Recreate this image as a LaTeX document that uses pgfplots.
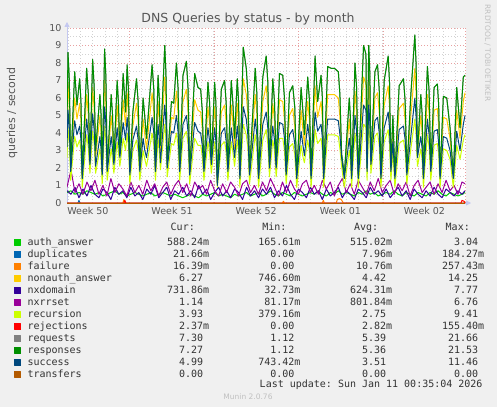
\documentclass[border=0pt]{standalone}
\usepackage{fontspec}
\setmainfont{DejaVu Sans}
\setmonofont{DejaVu Sans Mono}
\usepackage{pgfplots}
\usepackage{pgfplotstable}
\pgfplotsset{compat=1.18}
\usetikzlibrary{arrows.meta}

\definecolor{bg}{HTML}{F0F0F0}
\definecolor{majgrid}{HTML}{E8A0A0}
\definecolor{mingrid}{HTML}{D2D2D2}
\definecolor{axiscol}{HTML}{C4C8F0}
\definecolor{txt}{HTML}{555555}
\definecolor{legtxt}{HTML}{333333}
\definecolor{faint}{HTML}{C0C0C0}
\definecolor{cauth}{HTML}{00CC00}
\definecolor{cdup}{HTML}{0066B3}
\definecolor{cfail}{HTML}{FF8000}
\definecolor{cnonauth}{HTML}{FFCC00}
\definecolor{cnxdom}{HTML}{330099}
\definecolor{cnxrr}{HTML}{990099}
\definecolor{crecur}{HTML}{CCFF00}
\definecolor{crej}{HTML}{FF0000}
\definecolor{creq}{HTML}{808080}
\definecolor{cresp}{HTML}{008F00}
\definecolor{csucc}{HTML}{00487D}
\definecolor{ctrans}{HTML}{B35A00}

% x = pixels from the left edge of the plot (about 12.1 per day)
\pgfplotstableread{
p     resp nonauth succ recur
0     4.5  3.8  3.2  2.6
1     8.6  6.9  5.3  4.3
2.3   7.1  5.7  4.3  3.5
3.7   2.0  1.9  1.8  1.3
7.7   7.5  6.0  4.7  3.8
10    5.6  4.8  3.9  3.2
12.7  7.1  5.7  4.4  3.6
14.0  5.8  4.7  3.6  3.0
15.3  1.6  1.5  1.4  0.9
19.7  7.7  6.2  4.8  3.9
21.3  6.3  5.1  3.9  3.2
23    2.4  2.3  2.2  1.7
25.7  8.2  6.6  5.1  4.1
27.2  6.7  5.4  4.2  3.4
28.7  3.0  2.6  2.1  1.7
33    6.2  5.0  3.8  3.1
34.1  5.1  4.1  3.1  2.5
35.3  1.8  1.7  1.6  1.1
37.7  8.8  7.0  5.5  4.4
39.0  7.2  5.7  4.5  3.6
40.3  2.0  1.9  1.8  1.3
44.3  6.2  5.0  3.8  3.1
45.6  5.1  4.1  3.1  2.5
47    2.4  2.3  2.2  1.7
50.3  7.0  5.6  4.3  3.5
51.6  5.7  4.6  3.5  2.9
53    2.8  2.7  2.6  2.1
56.3  7.4  5.9  4.6  3.7
58.7  5.2  4.4  3.6  3.0
60.3  7.9  6.3  4.9  4.0
61.6  6.5  5.2  4.0  3.3
63    1.8  1.7  1.6  1.1
66    5.2  4.4  3.6  3.0
69.7  7.1  5.7  4.4  3.6
71.3  5.8  4.7  3.6  3.0
73    2.0  1.9  1.8  1.3
76.3  6.0  4.8  3.7  3.0
78.0  4.9  3.9  3.0  2.5
79.7  3.7  3.1  2.6  2.1
85.3  7.9  6.3  4.9  4.0
87.0  6.5  5.2  4.0  3.3
88.7  2.0  1.9  1.8  1.3
91.3  7.3  5.8  4.5  3.7
92.5  6.0  4.8  3.7  3.0
93.7  3.3  2.8  2.3  1.9
98    9.0  7.2  5.6  4.5
99.2  7.4  5.9  4.6  3.7
100.5 2.2  2.1  2.0  1.5
104.7 5.8  4.9  4.1  3.4
107   5.7  4.8  4.0  3.3
109.7 8.0  6.4  5.0  4.0
111.3 6.6  5.2  4.1  3.3
113   2.0  1.9  1.8  1.3
116.3 7.3  5.8  4.5  3.7
119.7 8.1  6.5  5.0  4.1
121.3 6.6  5.3  4.1  3.4
123   1.8  1.7  1.6  1.1
128   7.4  5.9  4.6  3.7
131.3 6.6  5.3  4.1  3.3
134   6.5  5.2  4.0  3.3
135.6 5.3  4.3  3.3  2.7
137.3 2.0  1.9  1.8  1.3
141.3 6.9  5.5  4.3  3.5
143.0 5.7  4.5  3.5  2.9
144.7 2.4  2.3  2.2  1.7
148   6.9  5.5  4.3  3.5
149.3 5.7  4.5  3.5  2.9
150.7 1.2  1.1  1.0  0.9
154.7 6.5  5.2  4.0  3.3
158   7.0  5.6  4.3  3.5
159.6 5.7  4.6  3.5  2.9
161.3 2.0  1.9  1.8  1.3
164.7 7.0  5.6  4.3  3.5
166.3 5.7  4.6  3.5  2.9
168   3.7  3.1  2.6  2.1
170.7 7.1  5.7  4.4  3.6
172.0 5.8  4.7  3.6  3.0
173.3 1.6  1.5  1.4  0.9
176.7 8.9  7.1  5.5  4.5
179.7 7.7  6.2  4.8  3.9
181.3 6.3  5.1  3.9  3.2
183   1.8  1.7  1.6  1.1
188.7 7.7  6.2  4.8  3.9
190.3 6.3  5.1  3.9  3.2
192   1.6  1.5  1.4  0.9
196.3 7.2  5.8  4.5  3.6
199.7 8.4  6.7  5.2  4.2
201.3 6.9  5.5  4.3  3.4
203   2.2  2.1  2.0  1.5
206.3 7.1  5.7  4.4  3.6
208.0 5.8  4.7  3.6  3.0
209.7 2.2  2.1  2.0  1.5
213   7.4  5.9  4.6  3.7
216.3 7.3  5.8  4.5  3.7
218.0 6.0  4.8  3.7  3.0
219.7 1.8  1.7  1.6  1.1
223   6.3  5.0  3.9  3.2
226.3 6.7  5.4  4.2  3.4
228.3 5.5  4.4  3.4  2.8
230.3 1.6  1.5  1.4  0.9
234.7 6.6  5.3  4.1  3.3
236.3 5.4  4.3  3.4  2.7
238   3.9  3.3  2.7  2.3
241.3 7.2  5.8  4.5  3.6
243.0 5.9  4.8  3.7  3.0
244.7 1.6  1.5  1.4  0.9
248.7 8.4  6.7  5.2  4.2
251.3 5.8  4.9  4.1  3.4
254.7 7.3  5.8  4.5  3.7
256.0 6.0  4.8  3.7  3.0
257.3 1.6  1.5  1.4  0.9
261.3 7.8  6.2  4.8  3.9
264.7 7.7  6.2  4.8  3.9
268   7.7  6.2  4.8  3.9
272   7.5  6.0  4.7  3.8
273.6 6.2  4.9  3.9  3.1
275.3 2.8  2.7  2.6  2.1
278   1.6  1.5  1.4  0.9
283   6.0  4.8  3.7  3.0
284.1 4.9  3.9  3.0  2.5
285.3 1.6  1.5  1.4  0.9
288.7 8.0  6.4  5.0  4.0
290.3 6.6  5.2  4.1  3.3
292   1.6  1.5  1.4  0.9
297.3 9.0  7.2  5.6  4.5
299.7 8.5  6.8  5.3  4.3
300.8 2.0  1.9  1.8  1.3
302.5 9.0  7.2  5.6  4.5
303.6 7.4  5.9  4.6  3.7
304.7 2.4  2.3  2.2  1.7
308.7 7.5  6.0  4.7  3.8
311.3 7.9  6.3  4.9  4.0
313.0 6.5  5.2  4.0  3.3
314.7 1.6  1.5  1.4  0.9
318   7.0  5.6  4.3  3.5
322   8.4  6.7  5.2  4.2
323.3 6.9  5.5  4.3  3.4
324.7 2.0  1.9  1.8  1.3
326.7 5.0  4.3  3.5  2.9
328.7 1.6  1.5  1.4  0.9
333   6.7  5.4  4.2  3.4
337.3 7.1  5.7  4.4  3.6
339.0 5.8  4.7  3.6  3.0
340.7 1.8  1.7  1.6  1.1
344.7 6.2  5.0  3.8  3.1
348.7 9.6  7.7  6.0  4.8
350.0 7.9  6.3  4.9  3.9
351.3 2.8  2.7  2.6  2.1
354.7 6.2  5.0  3.8  3.1
356.0 5.1  4.1  3.1  2.5
357.3 1.6  1.5  1.4  0.9
361.3 7.8  6.2  4.8  3.9
363.0 6.4  5.1  3.9  3.2
364.7 2.0  1.9  1.8  1.3
368   6.6  5.3  4.1  3.3
371.3 6.8  5.4  4.2  3.4
372.6 5.6  4.4  3.4  2.8
374   1.6  1.5  1.4  0.9
377.3 6.1  4.9  3.8  3.1
380.7 6.0  4.8  3.7  3.0
384   4.3  3.7  3.0  2.5
387.3 1.6  1.5  1.4  0.9
390.7 6.6  5.3  4.1  3.3
394   4.3  3.7  3.0  2.5
397.3 7.2  5.8  4.5  3.6
399   7.3  6.3  5.0  3.9
}\main

\pgfplotstableread{
p   nxrr nxdom auth
0   0.9 0.7 0.6
4   1.9 0.5 0.7
8   0.6 0.9 0.5
12  1.1 0.3 0.6
16  0.5 0.8 0.5
20  1.2 0.4 0.7
24  0.7 1.0 0.6
28  1.3 0.5 0.5
32  0.5 0.3 0.6
36  1.0 0.8 0.4
40  0.4 0.6 0.5
44  1.4 0.2 0.6
48  0.6 0.9 0.7
52  1.1 0.5 0.5
56  0.8 0.7 0.6
60  0.4 0.3 0.4
64  1.2 0.9 0.5
68  0.6 0.4 0.6
72  1.0 0.6 0.5
76  0.5 0.2 0.4
80  1.3 0.8 0.5
84  0.7 0.5 0.6
88  1.1 1.0 0.4
92  0.4 0.3 0.5
96  0.9 0.6 0.6
100 1.2 0.9 0.5
104 0.5 0.2 0.4
108 1.0 0.7 0.5
112 1.3 0.5 0.4
116 0.6 0.9 0.3
120 1.1 0.4 0.4
124 0.4 0.7 0.5
128 1.2 0.3 0.4
132 0.8 1.0 0.3
136 1.0 0.5 0.5
140 0.5 0.8 0.4
144 1.3 0.2 0.5
148 0.7 0.6 0.6
152 0.4 0.9 0.4
156 1.1 0.4 0.5
160 0.6 0.7 0.4
164 1.2 0.3 0.3
168 0.9 0.8 0.5
172 0.4 0.6 0.4
176 1.1 0.2 0.5
180 1.3 0.9 0.6
184 0.6 0.4 0.4
188 1.0 0.7 0.5
192 0.5 0.3 0.6
196 1.2 0.8 0.4
200 0.7 0.5 0.5
204 1.4 0.9 0.7
208 0.9 0.3 0.5
212 0.4 0.7 0.4
216 1.2 0.4 0.6
220 0.6 1.0 0.5
224 1.3 0.5 0.4
228 0.8 0.2 0.6
232 0.5 0.8 0.5
236 1.1 0.6 0.4
240 1.3 0.3 0.5
244 0.6 0.9 0.6
248 1.0 0.5 0.5
252 0.5 0.7 0.7
256 1.3 0.2 0.5
260 0.8 0.8 0.4
264 1.2 0.4 0.6
268 0.4 0.6 0.5
272 1.0 0.9 0.7
276 1.4 0.3 0.5
280 0.6 0.7 0.6
284 1.1 0.5 0.5
288 0.5 0.2 0.4
292 1.3 0.8 0.6
296 0.9 0.6 0.5
300 0.5 0.3 0.7
304 1.2 0.9 0.5
308 0.7 0.5 0.6
312 1.4 0.7 0.4
316 0.6 0.4 0.5
320 1.0 0.8 0.6
324 1.3 0.3 0.5
328 0.5 0.6 0.7
332 1.1 0.9 0.5
336 0.7 0.4 0.4
340 1.2 0.7 0.6
344 0.4 0.2 0.5
348 1.0 0.8 0.4
352 1.3 0.5 0.6
356 0.6 0.3 0.5
360 0.9 0.7 0.4
364 1.2 0.4 0.6
368 0.5 0.9 0.5
372 1.1 0.5 0.7
376 0.6 0.3 0.5
380 1.3 0.8 0.4
384 0.7 0.6 0.6
388 1.0 0.4 0.5
392 0.5 0.7 0.4
396 1.2 0.5 0.5
399 1.1 0.7 0.6
}\low

\newcommand\nm{\phantom{m}}
\newcommand\lrow[5]{\makebox[120pt][l]{#1}\makebox[61.7pt][r]{#2}\makebox[91.3pt][r]{#3}\makebox[91.7pt][r]{#4}\makebox[92pt][r]{#5}}

\begin{document}
\begin{tikzpicture}
\fill[bg] (0pt,0pt) rectangle (497pt,407pt);
\useasboundingbox (0pt,0pt) rectangle (497pt,407pt);
\begin{axis}[
  at={(67pt,204pt)}, anchor=south west,
  scale only axis, width=399pt, height=175pt,
  xmin=0, xmax=400, ymin=0, ymax=10,
  axis background/.style={fill=white},
  axis lines=left,
  axis line style={draw=axiscol, line width=0.8pt},
  x axis line style={-{Triangle[length=5pt,width=5pt]}, shorten >=-5pt},
  y axis line style={-{Triangle[length=5pt,width=5pt]}, shorten >=-6pt},
  xtick={21,105.3,189.6,274,358.3},
  xticklabels={Week 50,Week 51,Week 52,Week 01,Week 02},
  minor xtick={1.7,13.8,...,399},
  extra x ticks={62.7,147.4,232.1,316.8,399.7},
  extra x tick labels={},
  extra x tick style={grid=major},
  ytick={0,1,...,10},
  minor ytick={0.5,1.5,...,9.5},
  xminorgrids, ymajorgrids, yminorgrids,
  major grid style={draw=majgrid, dash pattern=on 1pt off 2pt, line width=0.7pt},
  minor grid style={draw=mingrid, dash pattern=on 1pt off 2pt, line width=0.7pt},
  major tick length=0pt, minor tick length=0pt,
  /pgf/number format/assume math mode=true,
  ticklabel style={font=\fontsize{9.5}{11}\selectfont, text=txt},
  yticklabel style={xshift=-2pt},
  xticklabel style={yshift=-1pt},
  legend cell align=left,
  legend image code/.code={\fill[#1] (0pt,-0.3pt) rectangle (6pt,5.7pt); \path (10.5pt,0pt);},
  legend style={at={(-0.1328,-0.1829)}, anchor=north west, draw=none, fill=none,
    inner sep=0pt, outer sep=0pt, row sep=-1.45pt, column sep=0pt,
    font=\ttfamily\fontsize{10}{12}\selectfont, text=legtxt,
    cells={anchor=base west, inner sep=0pt, text height=8pt, text depth=4pt}},
  every axis plot/.append style={line width=1pt, line join=round, mark=none},
]
\addplot[cauth] table[x=p, y=auth] {\low};
\addlegendentry{\lrow{auth\_answer}{588.24m}{165.61m}{515.02m}{3.04\nm}}
\addplot[cdup] coordinates {(0,0) (11,0) (12,0.15) (13,0) (399,0)};
\addlegendentry{\lrow{duplicates}{21.66m}{0.00\nm}{7.96m}{184.27m}}
\addplot[cfail] coordinates {(0,0) (56,0) (57,0.2) (58,0) (216,0) (217,0.1) (218,0) (256,0) (257,0.15) (258,0) (270,0) (271,0.2) (273,0.25) (275,0.2) (277,0) (398,0) (399,0.1)};
\addlegendentry{\lrow{failure}{16.39m}{0.00\nm}{10.76m}{257.43m}}
\addplot[cnonauth] table[x=p, y=nonauth] {\main};
\addlegendentry{\lrow{nonauth\_answer}{6.27\nm}{746.60m}{4.42\nm}{14.25\nm}}
\addplot[cnxdom] table[x=p, y=nxdom] {\low};
\addlegendentry{\lrow{nxdomain}{731.86m}{32.73m}{624.31m}{7.77\nm}}
\addplot[cnxrr] table[x=p, y=nxrr] {\low};
\addlegendentry{\lrow{nxrrset}{1.14\nm}{81.17m}{801.84m}{6.76\nm}}
\addplot[crecur] table[x=p, y=recur] {\main};
\addlegendentry{\lrow{recursion}{3.93\nm}{379.16m}{2.75\nm}{9.41\nm}}
\addplot[crej] coordinates {(0,0) (57,0) (58,0.15) (59,0) (395,0) (396,0.15) (398,0.1) (399,0)};
\addlegendentry{\lrow{rejections}{2.37m}{0.00\nm}{2.82m}{155.40m}}
\addplot[creq] table[x=p, y=resp] {\main};
\addlegendentry{\lrow{requests}{7.30\nm}{1.12\nm}{5.39\nm}{21.66\nm}}
\addplot[cresp] table[x=p, y=resp] {\main};
\addlegendentry{\lrow{responses}{7.27\nm}{1.12\nm}{5.36\nm}{21.53\nm}}
\addplot[csucc] table[x=p, y=succ] {\main};
\addlegendentry{\lrow{success}{4.99\nm}{743.42m}{3.51\nm}{11.46\nm}}
\addplot[ctrans] coordinates {(0,0) (399,0)};
\addlegendentry{\lrow{transfers}{0.00\nm}{0.00\nm}{0.00\nm}{0.00\nm}}
\end{axis}
\node[anchor=base, font=\fontsize{12.5}{14}\selectfont, text=txt] at (248pt,384pt) {DNS Queries by status - by month};
\node[anchor=base, rotate=90, font=\fontsize{11}{13}\selectfont, text=txt] at (15pt,294pt) {queries / second};
\node[anchor=base, rotate=-90, font=\fontsize{7.5}{9}\selectfont, text=faint] at (485pt,354pt) {RRDTOOL / TOBI OETIKER};
\begin{scope}[every node/.style={anchor=base east, font=\ttfamily\fontsize{10}{12}\selectfont, text=legtxt, inner sep=0pt}]
\node at (195pt,176pt) {Cur:};
\node at (286.7pt,176pt) {Min:};
\node at (378.3pt,176pt) {Avg:};
\node at (470pt,176pt) {Max:};
\node at (482.7pt,20pt) {Last update: Sun Jan 11 00:35:04 2026};
\end{scope}
\node[anchor=base, font=\fontsize{7.5}{9}\selectfont, text=faint] at (248pt,8pt) {Munin 2.0.76};
\end{tikzpicture}
\end{document}
